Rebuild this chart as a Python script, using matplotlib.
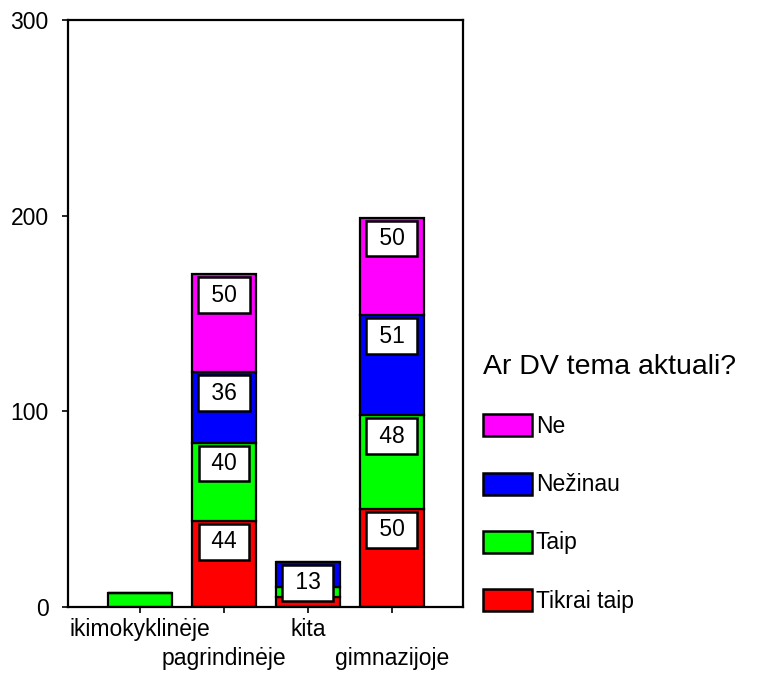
import matplotlib.pyplot as plt
from matplotlib.patches import Patch
import numpy as np

plt.rcParams['font.family'] = ['Liberation Sans', 'DejaVu Sans']

schools = ['ikimokyklinėje', 'pagrindinėje', 'kita', 'gimnazijoje']
# stacked from bottom to top
answers = ['Tikrai taip', 'Taip', 'Nežinau', 'Ne']
colors = ['#ff0000', '#00ff00', '#0000ff', '#ff00ff']
tikrai_taip = [0, 44, 5, 50]
taip = [7, 40, 5, 48]
nezinau = [0, 36, 13, 51]
ne = [0, 50, 0, 50]
series = [tikrai_taip, taip, nezinau, ne]

fig = plt.figure(figsize=(7.57, 6.73), dpi=100)
ax = fig.add_axes([68 / 757, 1 - 607 / 673, (463 - 68) / 757, (607 - 20) / 673])

x = np.arange(len(schools))
bottom = np.zeros(len(schools))
for vals, col in zip(series, colors):
    vals = np.array(vals, dtype=float)
    ax.bar(x, vals, width=0.76, bottom=bottom, color=col,
           edgecolor='black', linewidth=1.6, zorder=2)
    for xi, v, b in zip(x, vals, bottom):
        if v >= 10:
            ax.annotate(' %d ' % v, xy=(xi, b + v), xytext=(0, -15),
                        textcoords='offset points', ha='center', va='center',
                        fontsize=16.5, zorder=4,
                        bbox=dict(boxstyle='square,pad=0.28', fc='white',
                                  ec='black', lw=1.8))
    bottom += vals

ax.set_xlim(-0.86, 3.85)
ax.set_ylim(0, 300)
ax.set_yticks([0, 100, 200, 300])
ax.tick_params(axis='y', labelsize=16.5, length=4, width=1.2, pad=10)
ax.set_xticks(x)
ax.set_xticklabels(schools, fontsize=16.5)
ax.tick_params(axis='x', length=4, width=1.2)
ticks = ax.xaxis.get_major_ticks()
for i, t in enumerate(ticks):
    t.set_pad(4 if i % 2 == 0 else 25)
for s in ax.spines.values():
    s.set_linewidth(1.6)

handles = [Patch(facecolor=c, edgecolor='black', linewidth=1.8, label=a)
           for a, c in zip(answers, colors)][::-1]
leg = fig.legend(handles=handles, loc='upper left',
                 bbox_to_anchor=(483 / 757, 1 - 354 / 673),
                 frameon=False, fontsize=16.5, title='Ar DV tema aktuali?',
                 title_fontsize=20.5, alignment='left', borderpad=0,
                 borderaxespad=0,
                 handlelength=2.15, handleheight=1.1, handletextpad=0.15,
                 labelspacing=1.5)

fig.savefig('out.png', dpi=100)
